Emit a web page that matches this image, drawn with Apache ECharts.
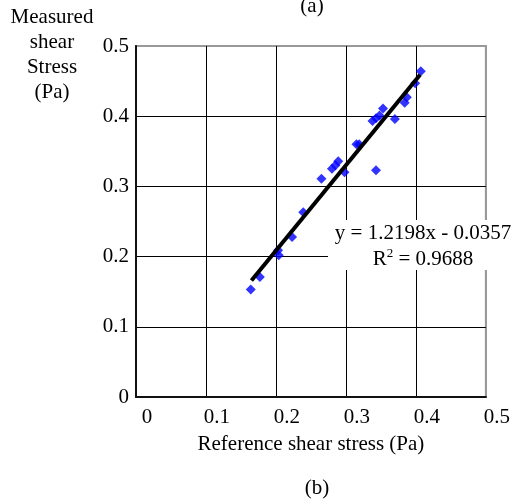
<!DOCTYPE html>
<html>
<head>
<meta charset="utf-8">
<script src="https://cdn.jsdelivr.net/npm/echarts@6/dist/echarts.min.js"></script>
<style>
  html, body { margin: 0; padding: 0; background: #fff; }
  #chart { width: 513px; height: 500px; }
</style>
</head>
<body>
<div id="chart"></div>
<script>
// reference vs measured shear stress (Pa)
const refStress = [0.164, 0.177, 0.203, 0.204, 0.223, 0.239, 0.265, 0.280, 0.285, 0.289, 0.298, 0.315, 0.319, 0.338, 0.343, 0.343, 0.348, 0.353, 0.370, 0.384, 0.387, 0.399, 0.407];
const measStress = [0.153, 0.171, 0.209, 0.202, 0.228, 0.263, 0.311, 0.325, 0.330, 0.336, 0.320, 0.360, 0.360, 0.393, 0.397, 0.323, 0.401, 0.411, 0.396, 0.419, 0.427, 0.447, 0.464];

// ends of the fitted line
const trendX = [0.165, 0.406];
const trendY = [0.166, 0.459];

const axisTicks = [0, 0.1, 0.2, 0.3, 0.4, 0.5];
const eqnText = 'y = 1.2198x - 0.0357';
const r2Text = 'R{sup|2} = 0.9688';

const font = 'Liberation Serif';
const fsize = 21;

let points = refStress.map((x, i) => [x, measStress[i]]);
let trend = trendX.map((x, i) => [x, trendY[i]]);

// last grid line is the grey frame, the rest black
let splitColors = axisTicks.map((t, i) => i === axisTicks.length - 1 ? '#999' : '#000');

let option = {
    animation: false,
    backgroundColor: '#fff',
    grid: {
        left: 136, right: 25, top: 46, bottom: 103,
        show: true,
        borderColor: '#999',
        borderWidth: 2
    },
    xAxis: {
        type: 'value',
        min: 0, max: 0.5, interval: 0.1,
        name: 'Reference shear stress (Pa)',
        nameLocation: 'middle',
        nameGap: 37,
        nameTextStyle: { fontFamily: font, fontSize: fsize, color: '#000' },
        axisLine: { lineStyle: { color: '#111', width: 2 } },
        axisTick: { show: false },
        axisLabel: {
            fontFamily: font, fontSize: fsize, color: '#000',
            margin: 10,
            padding: [0, 0, 0, 22],
            formatter: v => String(+v.toFixed(1))
        },
        splitLine: { lineStyle: { color: splitColors, width: 1 } }
    },
    yAxis: {
        type: 'value',
        min: 0, max: 0.5, interval: 0.1,
        axisLine: { show: true, lineStyle: { color: '#111', width: 2 } },
        axisTick: { show: false },
        axisLabel: {
            fontFamily: font, fontSize: fsize, color: '#000',
            margin: 7,
            formatter: v => String(+v.toFixed(1))
        },
        splitLine: { lineStyle: { color: splitColors, width: 1 } }
    },
    series: [
        {
            type: 'scatter',
            data: points,
            symbol: 'diamond',
            symbolSize: 10,
            itemStyle: { color: '#0000ff' },
            z: 2
        },
        {
            type: 'line',
            data: trend,
            showSymbol: false,
            lineStyle: { color: '#000', width: 4 },
            z: 3
        }
    ],
    graphic: [
        {
            type: 'text',
            x: 52, y: 5,
            style: {
                text: 'Measured\nshear\nStress\n(Pa)',
                fontFamily: font, fontSize: fsize, lineHeight: 25,
                fill: '#000', align: 'center', verticalAlign: 'top'
            }
        },
        {
            type: 'text',
            x: 312, y: 6,
            style: { text: '(a)', fontFamily: font, fontSize: fsize, fill: '#000', align: 'center', verticalAlign: 'middle' }
        },
        {
            type: 'text',
            x: 317, y: 488,
            style: { text: '(b)', fontFamily: font, fontSize: fsize, fill: '#000', align: 'center', verticalAlign: 'middle' }
        },
        {
            type: 'rect',
            shape: { x: 328, y: 220, width: 185, height: 50 },
            style: { fill: '#fff' },
            z: 10
        },
        {
            type: 'text',
            x: 423, y: 233, z: 11,
            style: { text: eqnText, fontFamily: font, fontSize: fsize, fill: '#000', align: 'center', verticalAlign: 'middle' }
        },
        {
            type: 'text',
            x: 423, y: 259, z: 11,
            style: {
                text: r2Text, fontFamily: font, fontSize: fsize, fill: '#000', align: 'center', verticalAlign: 'middle',
                rich: { sup: { fontFamily: font, fontSize: 13, fill: '#000', padding: [0, 0, 10, 0] } }
            }
        }
    ]
};

let myChart = echarts.init(document.getElementById('chart'));
myChart.setOption(option);
</script>
</body>
</html>
